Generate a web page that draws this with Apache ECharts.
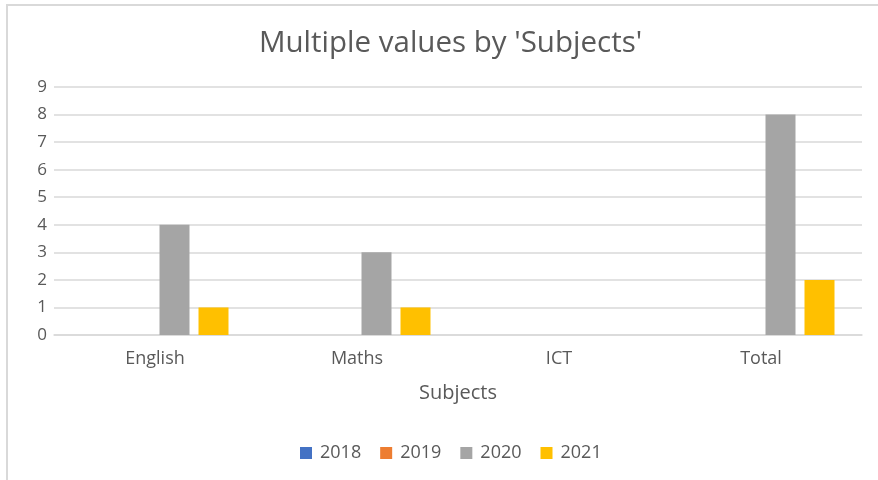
<!DOCTYPE html>
<html>
<head>
<meta charset="utf-8">
<script src="https://cdn.jsdelivr.net/npm/echarts@6/dist/echarts.min.js"></script>
<style>
  html, body { margin: 0; padding: 0; background: #fff; }
  #chart { width: 878px; height: 480px; }
</style>
</head>
<body>
<div id="chart"></div>
<script>
// chart data
const subjects = ['English', 'Maths', 'ICT', 'Total'];
const years = ['2018', '2019', '2020', '2021'];
const values2018 = [0, 0, 0, 0];
const values2019 = [0, 0, 0, 0];
const values2020 = [4, 3, 0, 8];
const values2021 = [1, 1, 0, 2];
const yTicks = [0, 1, 2, 3, 4, 5, 6, 7, 8, 9];

const colors = ['#4472C4', '#ED7D31', '#A5A5A5', '#FFC000'];
const seriesValues = [values2018, values2019, values2020, values2021];
const textColor = '#595959';
const font = '"Open Sans", "Liberation Sans", sans-serif';

const myChart = echarts.init(document.getElementById('chart'));

const series = years.map((name, i) => ({
    name,
    type: 'bar',
    data: seriesValues[i],
    barWidth: 30,
    barGap: '30%',
    itemStyle: { color: colors[i] },
    animation: false
}));

const option = {
    color: colors,
    graphic: [{
        type: 'rect',
        shape: { x: 7, y: 5, width: 900, height: 500 },
        style: { fill: 'none', stroke: '#D9D9D9', lineWidth: 2 },
        silent: true
    }],
    title: {
        text: "Multiple values by 'Subjects'",
        left: 254,
        top: 24,
        textStyle: { color: textColor, fontSize: 29.5, fontWeight: 'normal', fontFamily: font }
    },
    legend: {
        bottom: 13,
        left: 295,
        itemWidth: 12,
        itemHeight: 12,
        itemGap: 19,
        icon: 'rect',
        data: years,
        textStyle: { color: textColor, fontSize: 18, fontFamily: font, padding: [0, 0, 0, 3] }
    },
    grid: { left: 54, right: 16, top: 87, bottom: 145, containLabel: false },
    xAxis: {
        type: 'category',
        data: subjects,
        name: 'Subjects',
        nameLocation: 'middle',
        nameGap: 48,
        nameTextStyle: { color: textColor, fontSize: 20, fontFamily: font },
        axisTick: { show: false },
        axisLine: { lineStyle: { color: '#D9D9D9', width: 1.5 } },
        axisLabel: { color: textColor, fontSize: 18, fontFamily: font, margin: 15 }
    },
    yAxis: {
        type: 'value',
        min: yTicks[0],
        max: yTicks[yTicks.length - 1],
        interval: 1,
        axisLine: { show: false },
        axisTick: { show: false },
        axisLabel: { color: textColor, fontSize: 17, fontFamily: font, margin: 7 },
        splitLine: { lineStyle: { color: '#D9D9D9', width: 1.5 } }
    },
    series
};
myChart.setOption(option);
</script>
</body>
</html>
